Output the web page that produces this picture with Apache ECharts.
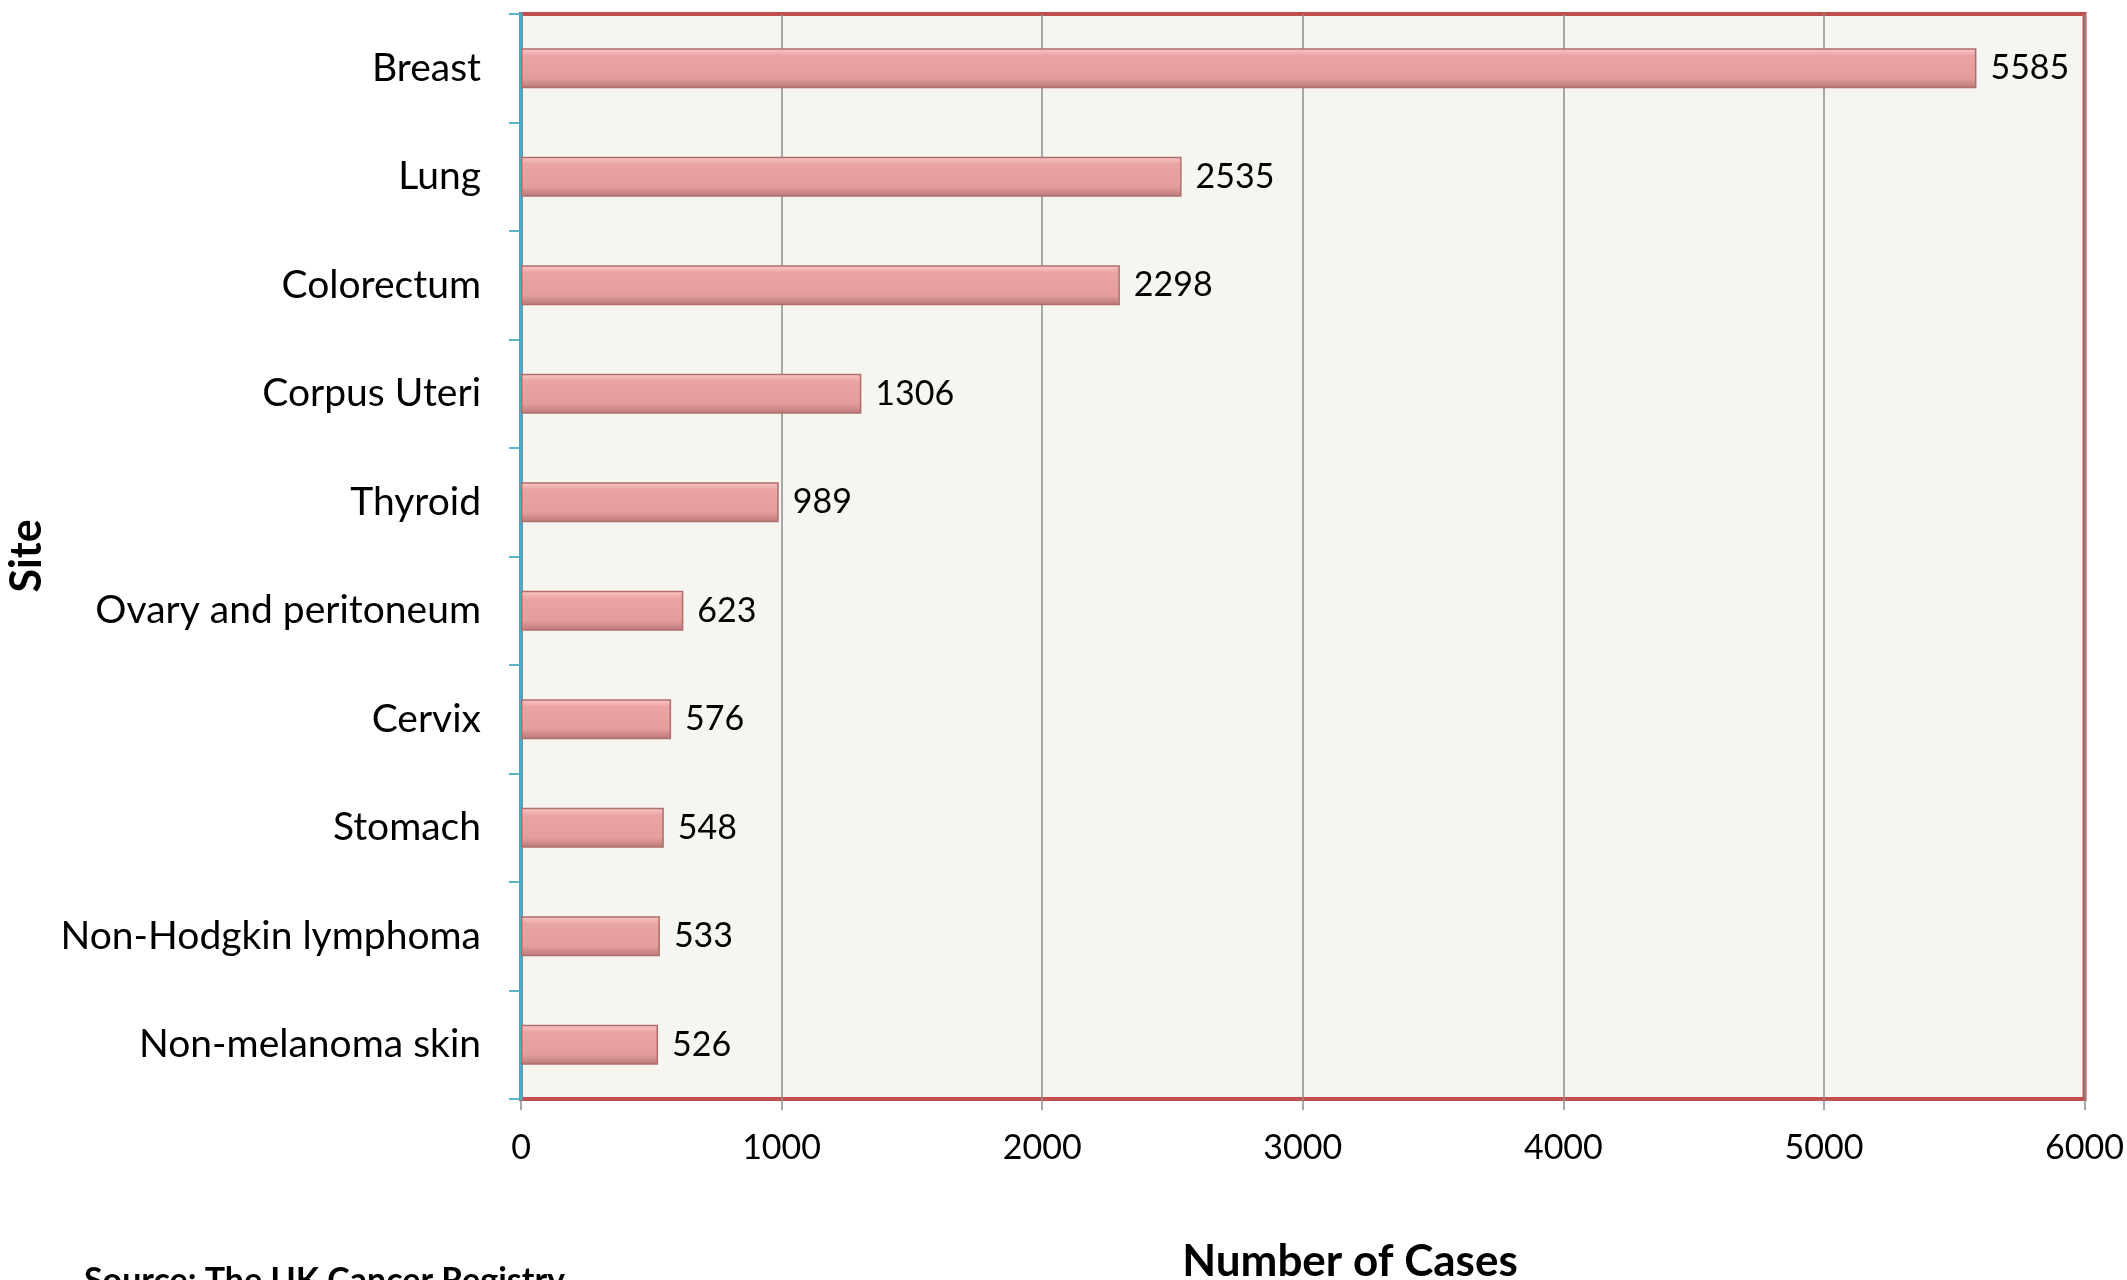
<!DOCTYPE html>
<html>
<head>
<meta charset="utf-8">
<script src="https://cdn.jsdelivr.net/npm/echarts@6/dist/echarts.min.js"></script>
<style>
html,body{margin:0;padding:0;background:#fff;}
#c{width:2127px;height:1280px;}
</style>
</head>
<body>
<div id="c"></div>
<script>
const sites = ['Breast','Lung','Colorectum','Corpus Uteri','Thyroid','Ovary and peritoneum','Cervix','Stomach','Non-Hodgkin lymphoma','Non-melanoma skin'];
const cases = [5585, 2535, 2298, 1306, 989, 623, 576, 548, 533, 526];
const xTicks = [0, 1000, 2000, 3000, 4000, 5000, 6000];

const FONT = 'Lato';
const chart = echarts.init(document.getElementById('c'));
chart.setOption({
  animation: false,
  backgroundColor: '#ffffff',
  textStyle: { fontFamily: FONT },
  grid: {
    left: 521, right: 37, top: 14, bottom: 181,
    show: true,
    backgroundColor: '#F7F5F0',
    borderColor: '#C0504D',
    borderWidth: 4
  },
  xAxis: {
    type: 'value',
    min: xTicks[0], max: xTicks[xTicks.length - 1], interval: 1000,
    axisLine: { show: false },
    axisTick: { show: true, length: 11, lineStyle: { color: '#8C8C8C', width: 1.5 } },
    splitLine: { show: true, lineStyle: { color: '#8C8C8C', width: 1.5 } },
    axisLabel: { color: '#000', fontSize: 34, fontFamily: FONT, margin: 32,
      formatter: function (v) { return String(v); } }
  },
  yAxis: {
    type: 'category',
    data: sites,
    inverse: true,
    axisLine: { show: true, lineStyle: { color: '#4BACC6', width: 3.5 } },
    axisTick: { show: true, length: 12, lineStyle: { color: '#4BACC6', width: 1.8 } },
    axisLabel: { color: '#000', fontSize: 39, fontFamily: FONT, margin: 40 }
  },
  series: [{
    type: 'bar',
    data: cases,
    barWidth: 40,
    itemStyle: {
      color: new echarts.graphic.LinearGradient(0, 0, 0, 1, [
        { offset: 0, color: '#FCCACA' },
        { offset: 0.18, color: '#EBA4A4' },
        { offset: 0.75, color: '#E49C9C' },
        { offset: 1, color: '#B97878' }
      ]),
      borderColor: '#AE6E6E',
      borderWidth: 1.5
    },
    label: {
      show: true, position: 'right', distance: 14,
      color: '#000', fontSize: 34, fontFamily: FONT
    }
  }],
  graphic: [
    {
      type: 'text', rotation: Math.PI / 2,
      x: 27, y: 556,
      style: { text: 'Site', font: 'bold 43px ' + FONT, fill: '#000', textAlign: 'center', textVerticalAlign: 'middle' }
    },
    {
      type: 'text', x: 1350, y: 1262,
      style: { text: 'Number of Cases', font: 'bold 44px ' + FONT, fill: '#000', textAlign: 'center', textVerticalAlign: 'middle' }
    },
    {
      type: 'text', x: 84, y: 1264,
      style: { text: 'Source: The UK Cancer Registry', font: 'bold 34px ' + FONT, fill: '#000', textAlign: 'left', textVerticalAlign: 'top' }
    }
  ]
});
</script>
</body>
</html>
